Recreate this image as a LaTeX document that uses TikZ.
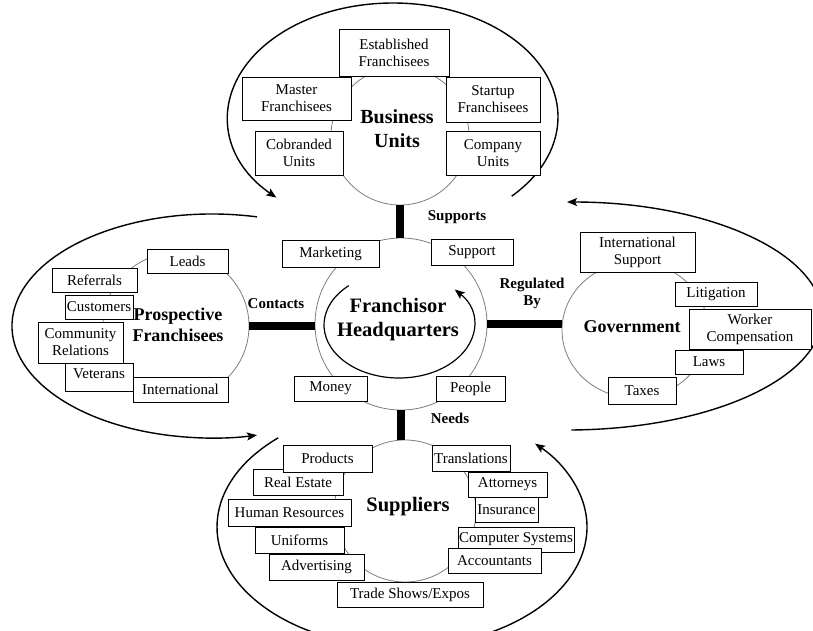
\documentclass[tikz,border=0pt]{standalone}
\usepackage{fontspec}
\setmainfont{Liberation Serif}
\usetikzlibrary{arrows.meta,shapes.geometric}

\definecolor{ringgray}{RGB}{125,125,125}
\newcommand{\bxfont}{\fontsize{15}{17}\selectfont}
\newcommand{\lblfont}{\fontsize{15}{17}\selectfont\bfseries}

\tikzset{
  box/.style={draw=black, fill=white, line width=0.8pt, inner sep=0pt, align=center, font=\bxfont},
  ring/.style={draw=ringgray, line width=0.8pt, inner sep=0pt},
  bar/.style={line width=8pt, line cap=butt},
  flow/.style={line width=1.4pt, -{Stealth[length=10pt,width=8pt,inset=2pt]}},
  hub/.style={align=center, inner sep=0pt},
  conn/.style={align=center, inner sep=0pt, font=\lblfont}
}

\begin{document}
\begin{tikzpicture}[x=1pt,y=1pt]
\useasboundingbox (0,0) rectangle (813,-630);
\clip (0,0) rectangle (813,-630);

% centres of the four outer cycles and the inner loop
\coordinate (buC) at (393,-117);
\coordinate (pfC) at (212,-326);
\coordinate (gvC) at (567,-316);
\coordinate (suC) at (402,-527);
\coordinate (hqC) at (399,-325);

% outer cycle arrows
\draw[flow] ([shift={(-44:165 and 114)}]buC) arc[start angle=-44, end angle=225, x radius=165, y radius=114];
\draw[flow] ([shift={(77:200 and 112)}]pfC) arc[start angle=77, end angle=283, x radius=200, y radius=112];
\draw[flow] ([shift={(-89:255 and 114)}]gvC) arc[start angle=-89, end angle=90, x radius=255, y radius=114];
\draw[flow] ([shift={(-228:185 and 120)}]suC) arc[start angle=-228, end angle=44, x radius=185, y radius=120];

% thin rings
\node[ring, circle, minimum size=138pt] (bu) at (400,-136) {};
\node[ring, circle, minimum size=172pt] (hq) at (401,-324) {};
\node[ring, circle, minimum size=146pt] (pf) at (176,-326) {};
\node[ring, ellipse, minimum width=146pt, minimum height=136pt] (gv) at (635,-330) {};
\node[ring, circle, minimum size=142pt] (su) at (405,-511) {};

% thick links between the rings
\draw[bar] (bu.south) -- (bu.south |- hq.north);
\draw[bar] (hq.south) -- (hq.south |- su.north);
\draw[bar] (pf.east) -- (pf.east -| hq.west);
\draw[bar] (hq.east) -- (hq.east -| gv.west);

% inner loop arrow
\draw[line width=1.2pt, -{Stealth[length=10pt,width=8pt,inset=2pt]}]
  ([shift={(-228:75 and 53)}]hqC) arc[start angle=-228, end angle=42, x radius=75, y radius=53];

% ring titles
\node[hub, font=\fontsize{20.5}{24}\selectfont\bfseries] (hqt) at (398,-320) {Franchisor\\Headquarters};
\node[hub, font=\fontsize{20}{24}\selectfont\bfseries] (but) at (397,-129) {Business\\Units};
\node[hub, font=\fontsize{18}{20.5}\selectfont\bfseries] (pft) at (178,-325) {Prospective\\Franchisees};
\node[hub, font=\fontsize{18}{20}\selectfont\bfseries] (gvt) at (632,-327) {Government};
\node[hub, font=\fontsize{20.5}{24}\selectfont\bfseries] (sut) at (408,-507) {Suppliers};

% link labels
\node[conn] (lsup) at (457,-217) {Supports};
\node[conn] (lcon) at (276,-304) {Contacts};
\node[conn] (lreg) at (532,-293) {Regulated\\By};
\node[conn] (lneed) at (450,-418) {Needs};

% business units
\node[box, minimum width=110pt, minimum height=47pt] (est) at (394,-52.5) {Established\\Franchisees};
\node[box, minimum width=109pt, minimum height=43pt] (mst) at (296.5,-98.5) {Master\\Franchisees};
\node[box, minimum width=94pt, minimum height=45pt] (stu) at (493,-99.5) {Startup\\Franchisees};
\node[box, minimum width=88pt, minimum height=44pt] (cob) at (299,-153) {Cobranded\\Units};
\node[box, minimum width=94pt, minimum height=44pt] (cmp) at (493,-153) {Company\\Units};

% headquarters
\node[box, minimum width=97pt, minimum height=27pt] (mkt) at (330.5,-253.5) {Marketing};
\node[box, minimum width=82pt, minimum height=26pt] (spt) at (472,-252) {Support};
\node[box, minimum width=73pt, minimum height=25pt] (mon) at (330.5,-388.5) {Money};
\node[box, minimum width=69pt, minimum height=25pt] (ppl) at (470.5,-388.5) {People};

% prospective franchisees
\node[box, minimum width=81pt, minimum height=24pt] (lds) at (187.5,-261) {Leads};
\node[box, minimum width=85pt, minimum height=24pt] (ref) at (94.5,-280) {Referrals};
\node[box, minimum width=68pt, minimum height=24pt] (cus) at (99,-307) {Customers};
\node[box, minimum width=85pt, minimum height=41pt] (com) at (80.5,-342.5) {Community\\Relations};
\node[box, minimum width=95pt, minimum height=25pt] (int) at (180.5,-389.5) {International};
\node[box, minimum width=68pt, minimum height=28pt, text depth=7pt] (vet) at (99,-377) {Veterans};

% government
\node[box, minimum width=115pt, minimum height=40pt] (ins) at (637.5,-252) {International\\Support};
\node[box, minimum width=82pt, minimum height=24pt] (lit) at (716,-294) {Litigation};
\node[box, minimum width=122pt, minimum height=40pt] (wcp) at (750,-329) {Worker\\Compensation};
\node[box, minimum width=68pt, minimum height=24pt] (law) at (709,-362) {Laws};
\node[box, minimum width=68pt, minimum height=27pt] (tax) at (642,-390.5) {Taxes};

% suppliers
\node[box, minimum width=90pt, minimum height=26pt] (rle) at (298,-482) {Real Estate};
\node[box, minimum width=89pt, minimum height=27pt] (prd) at (327.5,-458.5) {Products};
\node[box, minimum width=123pt, minimum height=27pt] (hrs) at (289.5,-512.5) {Human Resources};
\node[box, minimum width=89pt, minimum height=26pt] (uni) at (299.5,-540) {Uniforms};
\node[box, minimum width=95pt, minimum height=26pt] (adv) at (316.5,-567) {Advertising};
\node[box, minimum width=146pt, minimum height=25pt] (tse) at (410,-594.5) {Trade Shows/Expos};
\node[box, minimum width=78pt, minimum height=26pt] (trn) at (471,-458) {Translations};
\node[box, minimum width=79pt, minimum height=25pt] (att) at (507.5,-484.5) {Attorneys};
\node[box, minimum width=63pt, minimum height=25pt] (inr) at (506.5,-509.5) {Insurance};
\node[box, minimum width=116pt, minimum height=25pt] (csy) at (516,-539.5) {Computer Systems};
\node[box, minimum width=93pt, minimum height=25pt] (acc) at (494.5,-560.5) {Accountants};
\end{tikzpicture}
\end{document}
